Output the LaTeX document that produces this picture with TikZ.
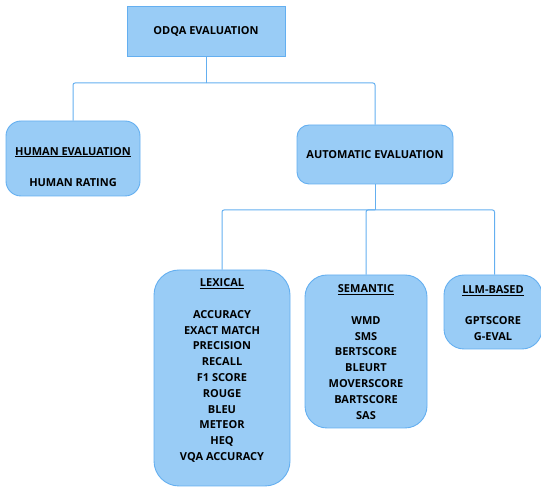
\documentclass[tikz,border=0pt]{standalone}
\usepackage{fontspec}
\setmainfont{Open Sans}
\definecolor{boxfill}{RGB}{153,204,246}
\definecolor{boxline}{RGB}{100,175,240}
\begin{document}
\begin{tikzpicture}[x=1pt,y=1pt,
  box/.style={draw=boxline,fill=boxfill,line width=0.9pt,inner sep=0pt},
  lbl/.style={align=center,font=\fontsize{11}{15.8}\selectfont\bfseries,text=black,inner sep=0pt},
  conn/.style={draw=boxline,line width=1pt,rounded corners=2pt}]
\useasboundingbox (0,0) rectangle (541,487);
% boxes
\node[box,minimum width=158pt,minimum height=50pt] (odqa) at (206,456) {};
\node[box,rounded corners=15pt,minimum width=134pt,minimum height=75pt] (human) at (73,328.5) {};
\node[box,rounded corners=12pt,minimum width=156pt,minimum height=59pt] (auto) at (375,332.5) {};
\node[box,rounded corners=25pt,minimum width=136pt,minimum height=216pt] (lex) at (222,109) {};
\node[box,rounded corners=22pt,minimum width=122pt,minimum height=153pt] (sem) at (366,135.5) {};
\node[box,rounded corners=20pt,minimum width=98pt,minimum height=74pt] (llm) at (493,175) {};
% texts
\node[lbl] (odqat) at (odqa.center) {ODQA EVALUATION};
\node[lbl] (humant) at (73,320) {\underline{HUMAN EVALUATION}\\ \\HUMAN RATING};
\node[lbl] (autot) at (auto.center) {AUTOMATIC EVALUATION};
\node[lbl] (lext) at (222,116.5) {\underline{LEXICAL}\\ \\ACCURACY\\EXACT MATCH\\PRECISION\\RECALL\\F1 SCORE\\ROUGE\\BLEU\\METEOR\\HEQ\\VQA ACCURACY};
\node[lbl] (semt) at (366,135) {\underline{SEMANTIC}\\ \\WMD\\SMS\\BERTSCORE\\BLEURT\\MOVERSCORE\\BARTSCORE\\SAS};
\node[lbl] (llmt) at (493,174) {\underline{LLM-BASED}\\ \\GPTSCORE\\G-EVAL};
% connectors
\coordinate (j1) at (206,404);
\coordinate (j2) at (375,277);
\draw[conn] (odqa.south) -- (j1);
\draw[conn] (j1) -| (human.north);
\draw[conn] (j1) -| (auto.north);
\draw[conn] (auto.south) -- (j2);
\draw[conn] (j2) -| (lex.north);
\draw[conn] (j2) -| (sem.north);
\draw[conn] (j2) -| ([xshift=1.5pt]llm.north);
\end{tikzpicture}
\end{document}
